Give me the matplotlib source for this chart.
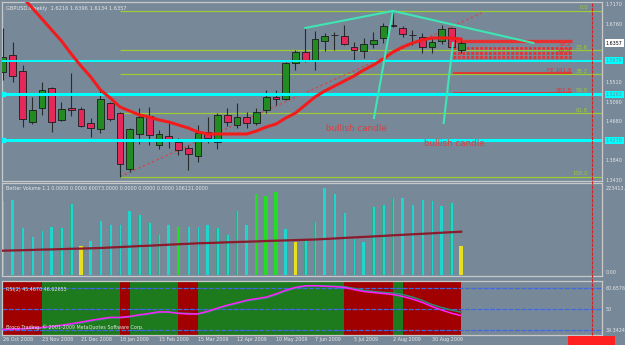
import matplotlib
matplotlib.use('Agg')
import matplotlib.pyplot as plt
from matplotlib.lines import Line2D
from matplotlib.patches import Rectangle

# weekly GBPUSD bars, first bar = 26 Oct 2008
opens = [1.5738, 1.6102, 1.5760, 1.4670, 1.4969, 1.5396, 1.4713, 1.4969, 1.4948, 1.4649,
         1.4520, 1.5076, 1.4862, 1.3666, 1.4414, 1.4798, 1.4178, 1.4371, 1.4243, 1.4114,
         1.3943, 1.4456, 1.4243, 1.4820, 1.4606, 1.4777, 1.4649, 1.4926, 1.5204, 1.5161,
         1.5931, 1.6166, 1.5973, 1.6401, 1.6529, 1.6508, 1.6273, 1.6187, 1.6337, 1.6465,
         1.6732, 1.6679, 1.6529, 1.6486, 1.6273, 1.6401, 1.6679, 1.6216]
highs = [1.6679, 1.6379, 1.5888, 1.5204, 1.5525, 1.5418, 1.5097, 1.5717, 1.4990, 1.4755,
         1.5375, 1.5097, 1.4884, 1.4542, 1.4969, 1.4990, 1.4499, 1.4649, 1.4328, 1.4178,
         1.4606, 1.4777, 1.4862, 1.4969, 1.5076, 1.4884, 1.4969, 1.5354, 1.5354, 1.5952,
         1.6208, 1.6679, 1.6614, 1.6572, 1.6593, 1.6743, 1.6379, 1.6465, 1.6593, 1.6785,
         1.7043, 1.6721, 1.6636, 1.6572, 1.6465, 1.6743, 1.6700, 1.6396]
lows = [1.5567, 1.5525, 1.4563, 1.4627, 1.4820, 1.4456, 1.4691, 1.4798, 1.4563, 1.4349,
        1.4435, 1.4691, 1.3503, 1.3602, 1.4200, 1.4178, 1.4093, 1.4114, 1.3965, 1.3644,
        1.3815, 1.4221, 1.4093, 1.4584, 1.4542, 1.4542, 1.4606, 1.4862, 1.5033, 1.5140,
        1.5781, 1.5952, 1.5781, 1.6187, 1.6208, 1.6315, 1.5995, 1.6038, 1.6251, 1.6358,
        1.6700, 1.6486, 1.6315, 1.6144, 1.6144, 1.6337, 1.6208, 1.6134]
closes = [1.6059, 1.5653, 1.4734, 1.4926, 1.5354, 1.4670, 1.4948, 1.4926, 1.4584, 1.4542,
          1.5161, 1.4734, 1.3773, 1.4520, 1.4777, 1.4392, 1.4414, 1.4307, 1.4072, 1.3986,
          1.4435, 1.4328, 1.4820, 1.4670, 1.4777, 1.4649, 1.4884, 1.5204, 1.5161, 1.5931,
          1.6166, 1.5973, 1.6443, 1.6508, 1.6522, 1.6337, 1.6208, 1.6337, 1.6422, 1.6721,
          1.6711, 1.6550, 1.6533, 1.6273, 1.6379, 1.6657, 1.6273, 1.6357]
ma_red = [1.7790, 1.7555, 1.7341, 1.7106, 1.6871, 1.6636, 1.6401, 1.6123, 1.5867, 1.5632,
          1.5354, 1.5183, 1.4990, 1.4905, 1.4820, 1.4777, 1.4713, 1.4670, 1.4606, 1.4542,
          1.4456, 1.4414, 1.4414, 1.4414, 1.4414, 1.4414, 1.4478, 1.4563, 1.4627, 1.4755,
          1.4862, 1.5033, 1.5204, 1.5332, 1.5439, 1.5546, 1.5653, 1.5781, 1.5888, 1.6016,
          1.6166, 1.6273, 1.6358, 1.6422, 1.6465, 1.6465, 1.6465, 1.6443]

volumes = [178500, 180900, 112900, 91300, 105700, 115300, 112900, 170500, 70400, 82400,
           129700, 120100, 120100, 154400, 144100, 124900, 96800, 120800, 114600, 114600,
           116000, 120100, 112900, 96100, 153700, 120100, 194600, 190500, 200100, 110500,
           78500, 84800, 126600, 208300, 194600, 148900, 86500, 78500, 162600, 168100,
           184200, 184200, 168100, 180900, 177700, 165000, 172200, 68900]
# c = normal, g = climax, y = low volume
vol_kind = "ccccccccycccccccccgcccccccgggcyccccccccccccccccy"
vol_ma = [58300, 59000, 59500, 60200, 61000, 61400, 62200, 62900, 63400, 64100,
          64800, 66000, 67000, 68200, 69400, 70300, 71500, 72700, 73900, 74900,
          76100, 76800, 77500, 78500, 79200, 79900, 80600, 81600, 82300, 83000,
          83800, 84500, 85200, 86400, 87600, 89000, 90200, 91400, 92600, 93800,
          95300, 96500, 97700, 98900, 100100, 101500, 102700, 103900]

rsi_signal = [40.0, 40.0, 40.0, 40.3, 40.5, 41.0, 41.5, 42.3, 43.0, 44.0,
              44.8, 45.6, 45.7, 46.1, 46.9, 47.6, 48.4, 48.6, 48.1, 47.9,
              47.6, 48.6, 50.2, 51.7, 52.9, 54.2, 55.0, 55.7, 57.3, 59.2,
              60.7, 61.6, 61.8, 61.8, 61.7, 61.5, 60.6, 59.6, 59.1, 58.6,
              58.3, 57.5, 56.2, 54.5, 52.4, 50.9, 49.6, 48.5]
rsi_main = [39.8, 39.9, 40.1, 40.5, 40.8, 41.3, 41.9, 42.7, 43.5, 44.4,
            45.2, 45.9, 45.9, 46.4, 47.2, 47.9, 48.7, 48.6, 47.9, 47.6,
            47.7, 49.0, 50.6, 52.1, 53.3, 54.6, 55.4, 56.2, 57.8, 59.7,
            61.1, 61.9, 62.0, 61.7, 61.5, 61.1, 60.0, 59.0, 58.5, 58.0,
            57.5, 56.5, 55.2, 53.5, 51.4, 49.6, 48.0, 46.8]
rsi_zone = "rrrrggggggggrgggggrrgggggggggggggggrrrrrgrrrrrr"
rsi_levels = [60.6576, 50.0, 39.3424]

date_labels = ['26 Oct 2008', '23 Nov 2008', '21 Dec 2008', '18 Jan 2009', '15 Feb 2009',
               '15 Mar 2009', '12 Apr 2009', '10 May 2009', '7 Jun 2009', '5 Jul 2009',
               '2 Aug 2009', '30 Aug 2009']
price_ticks = ['1.7170', '1.6760', '1.5510', '1.5090', '1.4680', '1.3840', '1.3430']
cyan_levels = [1.5979, 1.5263, 1.4278]
cyan_widths = [1.4, 2.2, 2.2]
fib_high, fib_low = 1.7043, 1.3503
fib_ratios = [0.0, 23.6, 38.2, 50.0, 61.8, 100.0]
fe_levels = [1.6401, 1.6251, 1.6134, 1.6059, 1.5711, 1.5284]
fe_labels = ['', '38.2', '61.8', '100.0', 'FE 161.8', '261.8']
# drawn objects: (bar, price) pairs
trend_lines = [[(31, 1.6679), (40, 1.7043), (54.4, 1.6358)],
               [(40, 1.7043), (38.05, 1.4755)],
               [(46.15, 1.6358), (45.2, 1.4649)]]
fib_diag = [(12, 1.3503), (49.1, 1.7000)]
notes = [(36.2, 1.4540, 'bullish candle'), (46.3, 1.4200, 'bullish candle')]

BG = '#778899'
FG = '#e8e8e8'
BORDER = '#c8c8c8'
SMALL = 3.9
plt.rcParams['font.family'] = ['DejaVu Sans']
plt.rcParams['font.stretch'] = 'condensed'

W, H = 625.0, 345.0
XMIN, XMAX = -0.103, 61.44


def box(top, bottom):
    return [2 / W, 1 - bottom / H, 600 / W, (bottom - top) / H]


fig = plt.figure(figsize=(6.25, 3.45), dpi=100, facecolor=BG)
ax = fig.add_axes(box(2, 181))
axv = fig.add_axes(box(183, 276))
axr = fig.add_axes(box(281, 335))
for a in (ax, axv, axr):
    a.set_facecolor(BG)
    a.set_xlim(XMIN, XMAX)
    a.set_xticks([])
    a.set_yticks([])
    for s in a.spines.values():
        s.set_color(BORDER)
        s.set_linewidth(0.9)

# ---------------- main price window ----------------
ax.set_ylim(1.7170 - 176 / 468, 1.7170 + 3 / 468)
n = len(opens)
xs = list(range(n))

fib_prices = [fib_high - r / 100 * (fib_high - fib_low) for r in fib_ratios]
ax.hlines(fib_prices, 12, XMAX, color='#9acd32', lw=0.9, zorder=1)
for r, p in zip(fib_ratios, fib_prices):
    ax.text(60.0, p + 0.0010, '%.1f' % r, color='#9acd32', fontsize=SMALL + 0.4,
            ha='right', va='bottom', zorder=6)

ax.plot([q[0] for q in fib_diag], [q[1] for q in fib_diag], color='#d04848',
        lw=0.9, ls=(0, (2, 2)), zorder=2)

# fibo expansion block on the right
for i, p in enumerate(fe_levels):
    lw = 2.4 if i == 0 else (2.0 if i < 4 else 1.3)
    ls = '-' if i in (0, 4, 5) else (0, (1, 0.6))
    ax.hlines(p, 46.2, 58.4, color='#e83030', lw=lw, ls=ls, zorder=2)
for p, t in zip(fe_levels, fe_labels):
    if t:
        ax.text(58.3, p + 0.0012, t, color='#e83030', fontsize=SMALL + 0.6,
                ha='right', va='bottom', zorder=6)

for i in xs:
    o, h, l, c = opens[i], highs[i], lows[i], closes[i]
    ax.vlines(i, l, h, color='#2b2b2b', lw=0.8, zorder=3)
    lo, hi = min(o, c), max(o, c)
    if hi - lo < 0.0012:
        lo, hi = (lo + hi) / 2 - 0.0006, (lo + hi) / 2 + 0.0006
    col = '#228b22' if c > o else '#e4285a'
    ax.add_patch(Rectangle((i - 0.34, lo), 0.68, hi - lo, fc=col,
                           ec='#1c1c1c', lw=0.6, zorder=4))

for p, w in zip(cyan_levels, cyan_widths):
    ax.axhline(p, color='#00ffff', lw=w, zorder=4.5)
for p in cyan_levels[1:]:
    ax.plot(0.05, p, 's', color='#00ffff', ms=3.2, zorder=4.5)

ax.plot(xs, ma_red, color='#f21c1c', lw=2.2, zorder=5, solid_capstyle='round')

for tl in trend_lines:
    ax.plot([q[0] for q in tl], [q[1] for q in tl], color='#3ee6b4', lw=1.5, zorder=6)

for bx, by, t in notes:
    ax.text(bx, by, t, color='#d84040', fontsize=6.3, ha='center', va='center',
            fontstretch='normal', zorder=6)

ax.text(0.006, 0.975, 'GBPUSD,Weekly  %.4f %.4f %.4f %.4f' % (opens[-1], highs[-1], lows[-1], closes[-1]),
        transform=ax.transAxes, color=FG, fontsize=SMALL + 0.2, ha='left', va='top')

ytr = ax.get_yaxis_transform()
for t in price_ticks:
    ax.text(1.006, float(t), t, transform=ytr, color=FG, fontsize=SMALL,
            ha='left', va='center', clip_on=False)
ax.text(1.006, closes[-1], '%.4f' % closes[-1], transform=ytr, color='black', fontsize=SMALL,
        ha='left', va='center', clip_on=False,
        bbox=dict(boxstyle='square,pad=0.2', fc='white', ec='none'))
for p in cyan_levels:
    ax.text(1.006, p, '%.4f' % p, transform=ytr, color='#6f8fa0', fontsize=SMALL,
            ha='left', va='center', clip_on=False,
            bbox=dict(boxstyle='square,pad=0.2', fc='#00ffff', ec='none'))

# ---------------- volume window ----------------
axv.set_ylim(-2400, 220800)
kind_col = {'c': '#1fd6cc', 'g': '#22dd22', 'y': '#e6e020'}
for i, v in enumerate(volumes):
    k = vol_kind[i]
    wd = 0.28 if k == 'c' else 0.36
    axv.bar(i, v, width=wd, color=kind_col[k], lw=0, zorder=2)
    if k == 'c':
        axv.bar(i - 0.07, v, width=0.07, color='#2ea88a', lw=0, zorder=2)
axv.plot(xs, vol_ma, color='#8b1a2a', lw=1.6, zorder=3)
axv.text(0.006, 0.965, 'Better Volume 1.1 0.0000 0.0000 60073.0000 0.0000 0.0000 0.0000 106131.0000',
         transform=axv.transAxes, color=FG, fontsize=SMALL, ha='left', va='top')
axv.text(1.006, 0.94, '223413.', transform=axv.transAxes, color=FG, fontsize=SMALL,
         ha='left', va='center', clip_on=False)
axv.text(1.006, 0.04, '0.00', transform=axv.transAxes, color=FG, fontsize=SMALL,
         ha='left', va='center', clip_on=False)

# ---------------- RSI window ----------------
axr.set_ylim(36.96, 64.36)
zone_col = {'r': '#a00000', 'g': '#1d7a1d'}
for i, z in enumerate(rsi_zone):
    left = -0.5 if i == 0 else i
    axr.axvspan(left, i + 1, color=zone_col[z], lw=0, zorder=1)
axr.hlines(rsi_levels, XMIN, XMAX, color='#4169e1', lw=0.9, ls=(0, (4, 1)), zorder=2)
axr.plot(xs, rsi_signal, color='#2e8b74', lw=1.1, zorder=3)
axr.plot(xs, rsi_main, color='#ff20ff', lw=1.1, zorder=4)
axr.text(0.006, 0.84, 'RSI(2) 45.4670 46.62655', transform=axr.transAxes, color=FG,
         fontsize=SMALL, ha='left', va='center', zorder=6)
axr.text(0.006, 0.15, 'Broco Trading, \u00a9 2001-2009 MetaQuotes Software Corp.',
         transform=axr.transAxes, color=FG, fontsize=SMALL, ha='left', va='center', zorder=6)
rtr = axr.get_yaxis_transform()
for lv, t in zip(rsi_levels, ['60.6576', '50', '39.3424']):
    axr.text(1.006, lv, t, transform=rtr, color=FG, fontsize=SMALL, ha='left',
             va='center', clip_on=False)

xtr = axr.get_xaxis_transform()
for k, t in enumerate(date_labels):
    axr.text(4 * k, -0.085, t, transform=xtr, color=FG, fontsize=SMALL,
             ha='left', va='center', clip_on=False)

# red vertical marker across all windows
fig.add_artist(Line2D([592 / W, 592 / W], [1 - 3 / H, 1 - 335 / H], color='#d02020',
                      lw=0.8, ls=(0, (3, 1))))
fig.add_artist(Rectangle((568 / W, 0), 47 / W, 9 / H, fc='#ff2020', ec='none'))

fig.savefig('out.png', dpi=100, facecolor=BG)
